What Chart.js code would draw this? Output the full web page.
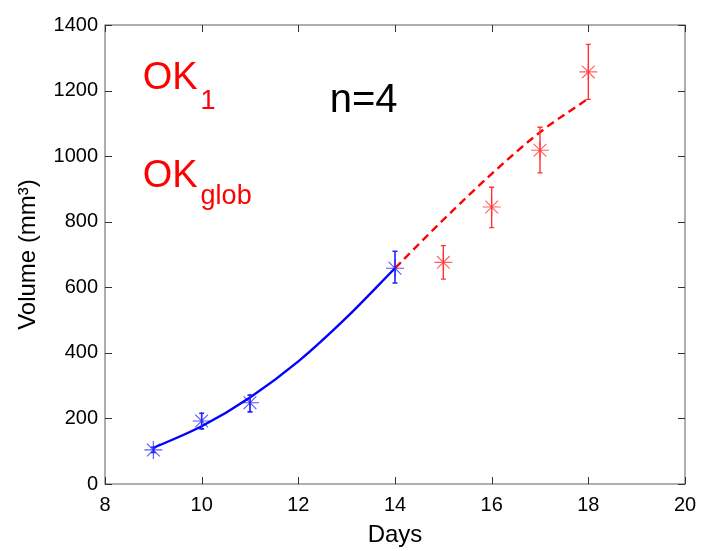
<!DOCTYPE html>
<html>
<head>
<meta charset="utf-8">
<script src="https://cdn.jsdelivr.net/npm/chart.js@4.4.1/dist/chart.umd.min.js"></script>
<style>
  html, body { margin: 0; padding: 0; background: #fff; }
  #wrap { width: 701px; height: 551px; }
</style>
</head>
<body>
<div id="wrap"><canvas id="volChart" width="701" height="551"></canvas></div>
<script>
// measured tumour volumes (mm3), blue = fitted part, red = predicted part
const blueDays = [9, 10, 11, 14];
const blueVol  = [104, 192, 248, 658];
const blueLo   = [96, 168, 220, 613];
const blueHi   = [112, 216, 271, 710];

const redDays = [15, 16, 17, 18];
const redVol  = [676, 845, 1018, 1257];
const redLo   = [625, 782, 949, 1173];
const redHi   = [727, 905, 1088, 1341];

// model curve (solid up to day 14, dashed after)
const fitDays = [9, 10, 11, 12, 13, 14, 15, 16, 17, 18];
const fitVol  = [110, 176, 264, 374, 508, 658, 806, 946, 1073, 1176];

const xTicks = [8, 10, 12, 14, 16, 18, 20];
const yTicks = [0, 200, 400, 600, 800, 1000, 1200, 1400];

const FONT = '"Liberation Sans", Arial, Helvetica, sans-serif';

const toPts = (xs, ys) => xs.map((x, i) => ({ x: x, y: ys[i] }));

// error bars drawn from the lo/hi arrays through the scales
const errorBars = {
    id: 'errorBars',
    afterDatasetsDraw(chart) {
        const ctx = chart.ctx;
        const xs = chart.scales.x, ys = chart.scales.y;
        const groups = [
            { d: blueDays, lo: blueLo, hi: blueHi, color: '#2222ff', w: 1.6 },
            { d: redDays, lo: redLo, hi: redHi, color: '#ff3333', w: 1.4 }
        ];
        ctx.save();
        groups.forEach(g => {
            ctx.strokeStyle = g.color;
            ctx.lineWidth = g.w;
            g.d.forEach((day, i) => {
                const px = xs.getPixelForValue(day);
                const top = ys.getPixelForValue(g.hi[i]);
                const bot = ys.getPixelForValue(g.lo[i]);
                ctx.beginPath();
                ctx.moveTo(px, top); ctx.lineTo(px, bot);
                ctx.moveTo(px - 2.5, top); ctx.lineTo(px + 2.5, top);
                ctx.moveTo(px - 2.5, bot); ctx.lineTo(px + 2.5, bot);
                ctx.stroke();
            });
        });
        ctx.restore();
    }
};

// matlab style box with inward ticks + text labels
const boxAndText = {
    id: 'boxAndText',
    afterDraw(chart) {
        const ctx = chart.ctx;
        const a = chart.chartArea;
        const xs = chart.scales.x, ys = chart.scales.y;
        ctx.save();
        ctx.strokeStyle = '#7a7a7a';
        ctx.lineWidth = 1.2;
        ctx.strokeRect(a.left, a.top, a.right - a.left, a.bottom - a.top);
        ctx.strokeStyle = '#333';
        ctx.lineWidth = 1;
        const tl = 7;
        ctx.beginPath();
        xTicks.forEach(v => {
            const p = Math.round(xs.getPixelForValue(v)) + 0.5;
            ctx.moveTo(p, a.bottom); ctx.lineTo(p, a.bottom - tl);
            ctx.moveTo(p, a.top); ctx.lineTo(p, a.top + tl);
        });
        yTicks.forEach(v => {
            const p = Math.round(ys.getPixelForValue(v)) + 0.5;
            ctx.moveTo(a.left, p); ctx.lineTo(a.left + tl, p);
            ctx.moveTo(a.right, p); ctx.lineTo(a.right - tl, p);
        });
        ctx.stroke();

        // annotations
        ctx.textBaseline = 'alphabetic';
        ctx.textAlign = 'left';
        ctx.fillStyle = '#ff0000';
        let x0 = xs.getPixelForValue(8.78);
        ctx.font = '38px ' + FONT;
        ctx.fillText('OK', x0, ys.getPixelForValue(1205));
        let w = ctx.measureText('OK').width;
        ctx.font = '27px ' + FONT;
        ctx.fillText('1', x0 + w + 3, ys.getPixelForValue(1145));

        ctx.font = '38px ' + FONT;
        ctx.fillText('OK', x0, ys.getPixelForValue(905));
        ctx.font = '27px ' + FONT;
        ctx.fillText('glob', x0 + w + 3, ys.getPixelForValue(855));

        ctx.fillStyle = '#000';
        ctx.font = '40px ' + FONT;
        ctx.fillText('n=4', xs.getPixelForValue(12.65), ys.getPixelForValue(1135));
        ctx.restore();
    }
};

const ctx = document.getElementById('volChart').getContext('2d');
new Chart(ctx, {
    type: 'scatter',
    data: {
        datasets: [
            {
                label: 'fit',
                data: toPts(fitDays, fitVol),
                showLine: true,
                borderColor: '#0000ff',
                borderWidth: 2.4,
                pointRadius: 0,
                cubicInterpolationMode: 'monotone',
                segment: {
                    borderColor: c => c.p0.parsed.x >= 14 ? '#ff0000' : '#0000ff',
                    borderDash: c => c.p0.parsed.x >= 14 ? [8, 5] : undefined
                }
            },
            {
                label: 'measured',
                data: toPts(blueDays, blueVol),
                pointStyle: 'star',
                pointRadius: 9,
                borderColor: '#5555ff',
                backgroundColor: '#5555ff',
                borderWidth: 1.1
            },
            {
                label: 'predicted',
                data: toPts(redDays, redVol),
                pointStyle: 'star',
                pointRadius: 9,
                borderColor: '#ff6060',
                backgroundColor: '#ff6060',
                borderWidth: 1.1
            }
        ]
    },
    options: {
        responsive: false,
        animation: false,
        layout: { padding: { top: 25, right: 16, left: 0, bottom: 0 } },
        plugins: {
            legend: { display: false },
            tooltip: { enabled: false }
        },
        scales: {
            x: {
                type: 'linear',
                min: 8, max: 20,
                afterBuildTicks: s => { s.ticks = xTicks.map(v => ({ value: v })); },
                afterFit: s => { s.height = 67; s.paddingRight = 0; s.paddingLeft = 0; },
                grid: { display: false, drawTicks: false },
                border: { display: false },
                ticks: {
                    color: '#000', padding: 9, font: { family: FONT, size: 20 },
                    callback: v => String(v)
                },
                title: {
                    display: true, text: 'Days', color: '#000',
                    font: { family: FONT, size: 24 },
                    padding: { top: 0, bottom: 1 }
                }
            },
            y: {
                min: 0, max: 1400,
                afterBuildTicks: s => { s.ticks = yTicks.map(v => ({ value: v })); },
                afterFit: s => { s.width = 105; s.paddingTop = 0; s.paddingBottom = 0; },
                grid: { display: false, drawTicks: false },
                border: { display: false },
                ticks: {
                    color: '#000', padding: 7, font: { family: FONT, size: 20 },
                    callback: v => String(v)
                },
                title: {
                    display: true, text: 'Volume (mm³)', color: '#000',
                    font: { family: FONT, size: 24 },
                    padding: { top: 14, bottom: 0 }
                }
            }
        }
    },
    plugins: [errorBars, boxAndText]
});
</script>
</body>
</html>
